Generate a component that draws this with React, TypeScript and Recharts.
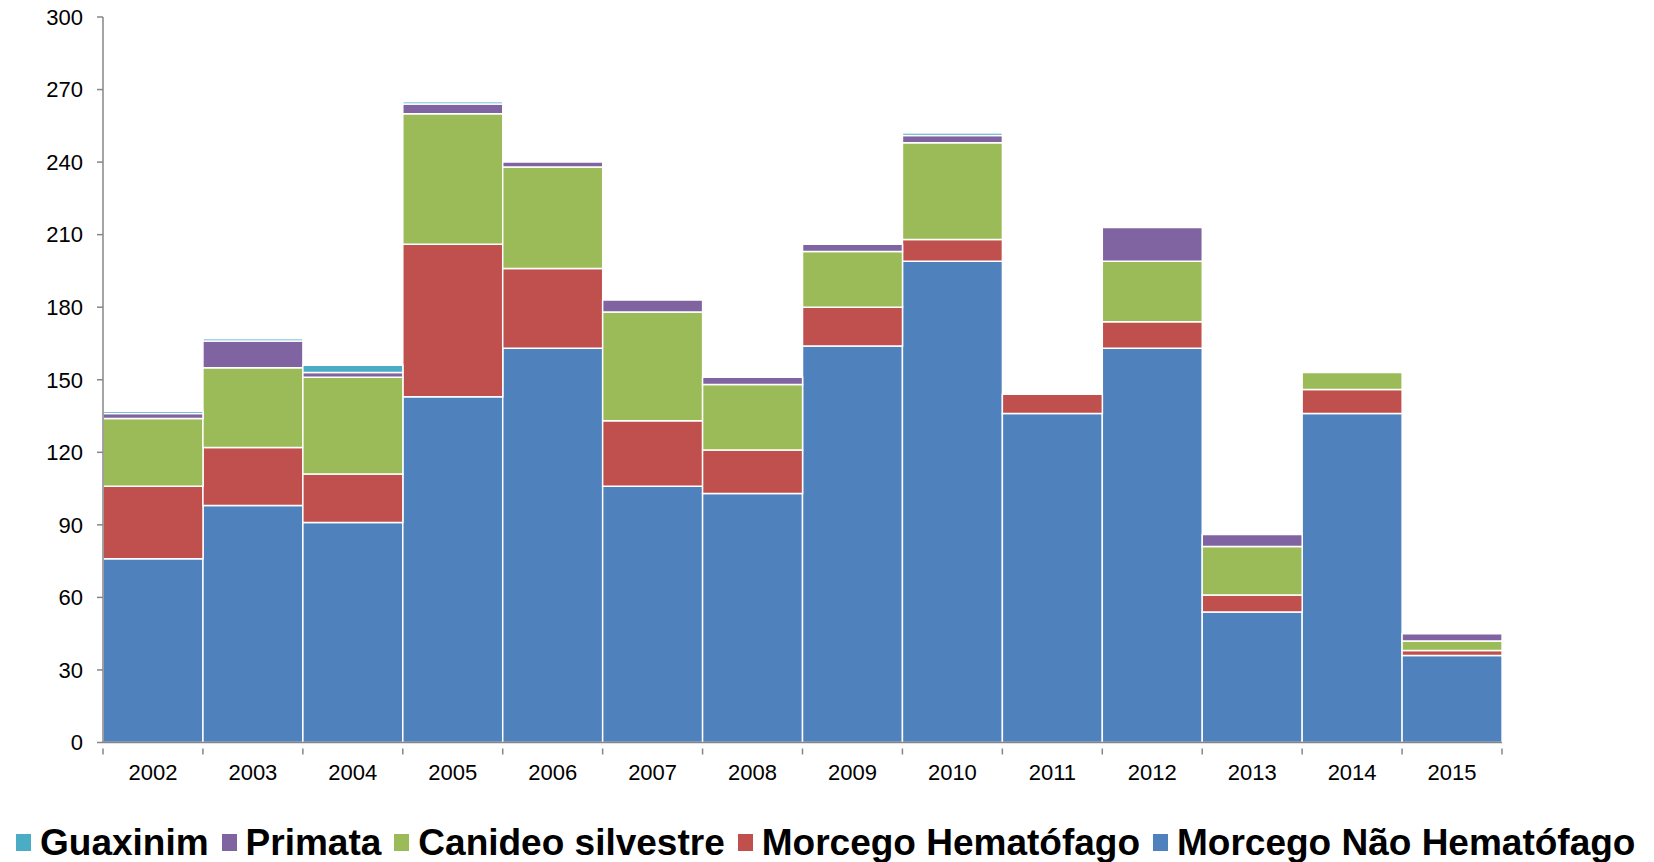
import {Bar, BarChart, Legend, XAxis, YAxis} from "recharts";

const years = ["2002", "2003", "2004", "2005", "2006", "2007", "2008", "2009", "2010", "2011", "2012", "2013", "2014", "2015"];
const naoHematofago = [76, 98, 91, 143, 163, 106, 103, 164, 199, 136, 163, 54, 136, 36];
const hematofago = [30, 24, 20, 63, 33, 27, 18, 16, 9, 8, 11, 7, 10, 2];
const canideo = [28, 33, 40, 54, 42, 45, 27, 23, 40, 0, 25, 20, 7, 4];
const primata = [2, 11, 2, 4, 2, 5, 3, 3, 3, 0, 14, 5, 0, 3];
const guaxinim = [1, 1, 3, 1, 0, 0, 0, 0, 1, 0, 0, 0, 0, 0];
const yTicks = [0, 30, 60, 90, 120, 150, 180, 210, 240, 270, 300];

const data = years.map((year, i) => ({
    year,
    naoHematofago: naoHematofago[i],
    hematofago: hematofago[i],
    canideo: canideo[i],
    primata: primata[i],
    guaxinim: guaxinim[i],
}));

const series = [
    {key: "guaxinim", name: "Guaxinim", color: "#4BACC6"},
    {key: "primata", name: "Primata", color: "#8064A2"},
    {key: "canideo", name: "Canideo silvestre", color: "#9BBB59"},
    {key: "hematofago", name: "Morcego Hematófago", color: "#C0504D"},
    {key: "naoHematofago", name: "Morcego Não Hematófago", color: "#4F81BD"},
];

const FONT = "'Liberation Sans', Arial, sans-serif";
const HALF_BAND = 1399 / 14 / 2;

function YearTick(props: any) {
    const {x, y, payload, index} = props;
    const isLast = index === years.length - 1;
    return (
        <g>
            <line x1={x - HALF_BAND} x2={x - HALF_BAND} y1={y - 16} y2={y - 10} stroke="#868686" strokeWidth={1.5}/>
            {isLast && <line x1={x + HALF_BAND} x2={x + HALF_BAND} y1={y - 16} y2={y - 10} stroke="#868686" strokeWidth={1.5}/>}
            <text x={x} y={y} dy="0.71em" textAnchor="middle" fontSize={22} fill="#000" fontFamily={FONT}>
                {payload.value}
            </text>
        </g>
    );
}

function LegendContent() {
    return (
        <div style={{
            display: "flex", alignItems: "center", height: 50, paddingLeft: 16, position: "relative", top: 5,
            fontFamily: FONT, fontWeight: "bold", fontSize: 37, lineHeight: 1, color: "#000", whiteSpace: "nowrap"
        }}>
            {series.map(s => (
                <div key={s.key} style={{display: "flex", alignItems: "center", marginRight: 13}}>
                    <span style={{display: "inline-block", width: 15, height: 17, background: s.color, marginRight: 9}}/>
                    <span>{s.name}</span>
                </div>
            ))}
        </div>
    );
}

export default function App() {
    const stackOrder = [...series].reverse();
    return (
        <div style={{position: "absolute", left: 0, top: 0, background: "#fff"}}>
            <BarChart width={1654} height={862} data={data} barCategoryGap={0}
                      margin={{top: 17, right: 152, left: 0, bottom: 0}}>
                <XAxis dataKey="year" height={69.5} stroke="#868686" strokeWidth={1.5}
                       tickLine={false} tickSize={6} tickMargin={16} tick={<YearTick/>} interval={0}/>
                <YAxis width={103} domain={[0, 300]} ticks={yTicks} interval={0} stroke="#868686" strokeWidth={1.5}
                       tickSize={6} tickMargin={14}
                       tick={{fill: "#000", fontSize: 22, fontFamily: FONT}}/>
                <Legend verticalAlign="bottom" content={<LegendContent/>}
                        wrapperStyle={{left: 0, width: 1654, height: 50}}/>
                {stackOrder.map(s => (
                    <Bar key={s.key} dataKey={s.key} name={s.name} stackId="a" fill={s.color}
                         stroke="#fff" strokeWidth={1.5} isAnimationActive={false}/>
                ))}
            </BarChart>
        </div>
    );
}
